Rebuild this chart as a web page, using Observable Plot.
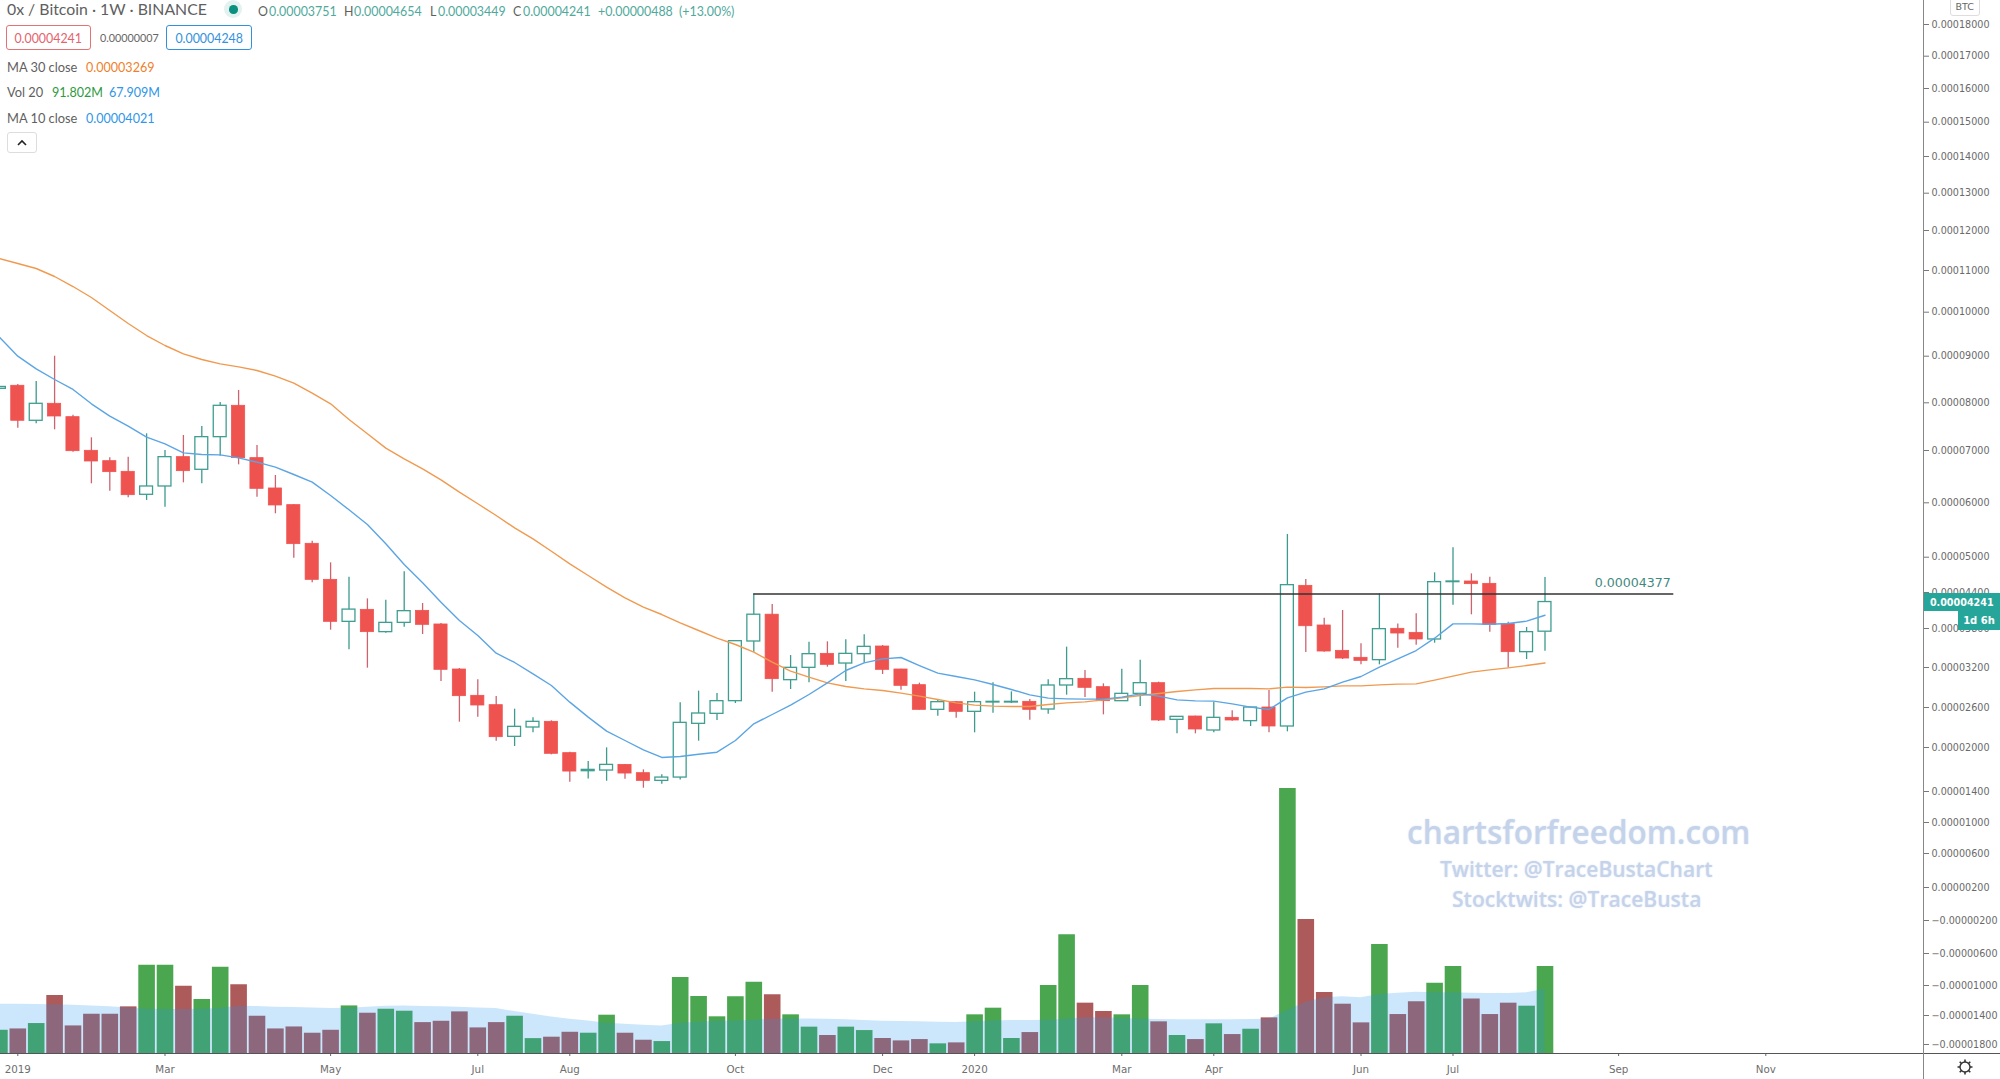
<!DOCTYPE html>
<html><head><meta charset="utf-8">
<script src="https://cdn.jsdelivr.net/npm/d3@7"></script>
<script src="https://cdn.jsdelivr.net/npm/@observablehq/plot@0.6"></script>
<style>
html,body{margin:0;padding:0;background:#fff;width:2000px;height:1079px;overflow:hidden}
#stage{position:relative;width:2000px;height:1079px;overflow:hidden;font-family:"Lato",sans-serif}
#stage svg.plot{position:absolute;left:0;top:0;background:transparent}
.t{position:absolute;white-space:nowrap;line-height:1;transform-origin:left center}
.box{position:absolute;box-sizing:border-box;display:flex;align-items:center;justify-content:center;white-space:nowrap}
.box span{display:inline-block}
.line{position:absolute}
</style></head><body><div id="stage"></div>
<script>
// Prices are in satoshi (1e-8 BTC). First entry is the week cut off by the left edge.
const firstWeek = "2018-12-31";
const opens = [8300,8365,7623,7979,7699,6994,6796,6592,6153,6312,6873,6631,7280,7937,6854,6274,5957,5246,4615,3911,4111,3744,3894,4094,3867,3170,2775,2635,2160,2300,2385,1923,1677,1686,1763,1650,1545,1590,2355,2505,2695,3600,4030,3010,3195,3410,3261,3405,3523,3170,2935,2565,2680,2535,2675,2675,2685,2570,2930,3030,2905,2695,2805,2965,2415,2465,2255,2445,2395,2600,2315,4513,3850,3456,3349,3313,3795,3733,3631,4576,4587,4547,3872,3436,3751];
const highs = [8350,8393,8457,9000,7741,7266,6860,6873,7350,7000,7315,7503,8007,8265,7105,6522,5963,5295,4904,4660,4294,4272,4751,4216,3883,3185,3015,2765,2575,2445,2400,1936,1809,1995,1768,1695,1627,2670,2845,2810,3605,4377,4200,3384,3590,3595,3626,3703,3538,3175,2965,2715,2690,2830,2970,2835,2720,3015,3513,3155,2955,3175,3313,2980,2460,2470,2680,2550,2605,2855,5418,4621,3972,4100,3564,4378,3877,4044,4734,5172,4717,4660,3905,3817,4654];
const lows = [8290,7469,7560,7434,6968,6363,6223,6095,6045,5920,6382,6363,6892,6726,6108,5798,4983,4564,3774,3475,3190,3728,3822,3708,2990,2380,2455,2095,2015,2220,1900,1527,1572,1540,1568,1445,1500,1558,2095,2405,2660,3436,2830,2870,2970,3205,2990,3266,3095,2860,2560,2470,2440,2220,2515,2660,2410,2500,2785,2750,2490,2690,2615,2390,2205,2205,2220,2395,2315,2220,2235,3430,3436,3323,3241,3241,3497,3544,3574,4189,4028,3744,3195,3323,3449];
const closes = [8340,7623,7979,7713,6987,6790,6586,6146,6312,6873,6605,7280,7937,6854,6267,5951,5240,4615,3911,4115,3744,3894,4089,3861,3165,2770,2630,2155,2310,2385,1914,1672,1695,1763,1645,1545,1590,2370,2510,2695,3605,4030,3025,3195,3405,3241,3410,3518,3165,2925,2565,2680,2535,2680,2685,2685,2565,2930,3025,2895,2695,2805,2965,2405,2460,2270,2445,2405,2600,2315,4525,3838,3446,3338,3302,3790,3723,3631,4576,4587,4542,3861,3436,3744,4241];
const ma10 = [9432,9000,8729,8500,8286,7979,7720,7510,7280,7140,6955,6924,6917,6860,6777,6681,6541,6395,6140,5871,5602,5246,4875,4564,4239,3933,3692,3420,3277,3105,2930,2680,2455,2245,2105,1968,1864,1877,1908,1936,2105,2355,2495,2635,2795,2970,3155,3271,3333,3354,3230,3115,3065,3015,2945,2870,2790,2740,2730,2725,2725,2755,2805,2770,2715,2700,2695,2655,2605,2570,2745,2830,2880,2980,3065,3205,3333,3461,3651,3877,3877,3872,3883,3922,4021];
const ma30 = [11300,11175,11050,10856,10616,10352,10040,9743,9470,9243,9053,8929,8836,8771,8693,8572,8422,8207,7979,7650,7350,7049,6841,6650,6439,6204,5982,5766,5539,5337,5110,4887,4689,4491,4311,4155,4033,3894,3769,3651,3554,3436,3282,3145,3055,2970,2915,2880,2855,2815,2770,2720,2670,2635,2620,2615,2615,2645,2670,2685,2715,2745,2780,2810,2840,2865,2885,2885,2885,2880,2905,2900,2910,2925,2925,2940,2950,2955,3010,3070,3130,3165,3195,3230,3269];
const volumes = [24.5,25.9,31.6,61.1,29.1,41.4,41.4,49.2,93.1,93.1,71,56.9,91,72.4,39.3,25.9,28,21.4,24.5,50.2,42.5,46.7,44.6,32.6,34,43.9,27,32.6,39.3,15.7,17.2,22.4,21.4,40.4,21.4,14,12.6,80.1,60,38.7,59.8,75.2,61.9,40.8,27.8,19,27.8,24.2,15.8,13.3,14.7,10.2,11.2,40.8,47.8,15.8,22.1,71.7,125.2,53.1,44.3,40.8,71.7,33.4,19,14.7,31.3,20,25.6,37.6,279.6,141.4,64.3,52,32.3,115,41.1,54.5,74.2,91.8,57.6,41.1,53.1,49.9,91.8];
const volMa = [52,52,51.6,51.3,51,50.2,49.2,48.1,46.7,46.3,46.3,46.7,47.4,49.9,49.5,48.8,48.5,48.1,47.4,47.8,48.8,49.9,50.2,49.5,49.2,48.8,48.1,47.4,44.2,41.4,38.6,36.1,34.4,31.9,30.9,29.8,29.1,31.9,33,34.1,34.4,35.1,36.2,36.5,36.5,36.2,35.5,34.8,34.1,33.7,33.4,33,32.7,33.4,34.4,34.8,34.8,35.1,36.2,37.6,37.6,36.9,36.2,35.8,35.5,35.5,35.5,35.5,35.8,36.2,45.3,54.1,58.7,59.8,58.7,62.2,63.6,64.7,64,64,63.6,63.3,63.3,64,67.9];
const priceTicks = [18000,17000,16000,15000,14000,13000,12000,11000,10000,9000,8000,7000,6000,5000,4400,3800,3200,2600,2000,1400,1000,600,200,-200,-600,-1000,-1400,-1800];
const timeTickDates = ["2019-01-07","2019-03-04","2019-05-06","2019-07-01","2019-08-05","2019-10-07","2019-12-02","2020-01-06","2020-03-02","2020-04-06","2020-06-01","2020-07-06","2020-09-07","2020-11-02"];
const timeTickLabels = ["2019","Mar","May","Jul","Aug","Oct","Dec","2020","Mar","Apr","Jun","Jul","Sep","Nov"];
const resistance = 4377;
const resistanceFrom = "2019-10-14", resistanceTo = "2020-09-28";

const DAY = 864e5;
const rows = opens.map((o,i)=>({
  date:new Date(+new Date(firstWeek+"T00:00Z")+i*7*DAY),
  open:o,high:highs[i],low:lows[i],close:closes[i],ma10:ma10[i],ma30:ma30[i],vol:volumes[i],volMa:volMa[i],up:closes[i]>=o
}));
const shift=(d,days)=>new Date(+d+days*DAY);
const tickDates = timeTickDates.map(s=>new Date(s+"T00:00Z"));
const labelOf = new Map(tickDates.map((d,i)=>[+d,timeTickLabels[i]]));
const up = rows.filter(d=>d.up), down = rows.filter(d=>!d.up);
const xScale = {type:"utc",domain:[new Date("2018-12-31T00:00Z"),new Date("2020-12-28T00:00Z")],range:[-1.1,1912.5]};
const chartFont = "DejaVu Sans";
const C = {up:"#3f9e90",upWick:"#3d9a8d",down:"#ef5350",downWick:"#cc6470",ma10:"#5ba5e4",ma30:"#f09a50",volUp:"#4ba650",volDown:"#ad5a5a"};

const stage = document.getElementById("stage");

// Volume pane
const vol = Plot.plot({
  width:2000,height:1079,marginLeft:0,marginRight:77,marginTop:0,marginBottom:26,
  x:{...xScale,axis:null},
  y:{type:"linear",domain:[0,100],range:[1053,958.2],axis:null},
  marks:[
    Plot.ruleX(up,{x:"date",y1:0,y2:"vol",stroke:C.volUp,strokeWidth:16.6}),
    Plot.ruleX(down,{x:"date",y1:0,y2:"vol",stroke:C.volDown,strokeWidth:16.6}),
    Plot.areaY(rows,{x:"date",y1:0,y2:"volMa",fill:"#2196f3",fillOpacity:0.23})
  ]
});
vol.setAttribute("class","plot");
stage.appendChild(vol);

// Price pane on its custom price axis
const price = Plot.plot({
  width:2000,height:1079,marginLeft:0,marginRight:77,marginTop:0,marginBottom:26,
  style:{background:"transparent",fontFamily:chartFont},
  x:{...xScale,axis:null},
  y:{type:"linear",domain:priceTicks,
     range:[24,55.7,88,121.7,156,192.7,230,270,311.7,355.7,402.3,450,502.3,556.7,592,628,667,707,747,791,822,853,887,920,953,985,1015,1044],axis:null},
  marks:[
    Plot.axisY({anchor:"right",ticks:priceTicks,tickSize:5,tickPadding:3,label:null,fontSize:9.6,color:"#6a6a6a",stroke:"#777",
      tickFormat:d=>(d<0?"\u2212":"")+(Math.abs(d)/1e8).toFixed(8)}),
    Plot.axisX({anchor:"bottom",ticks:tickDates,tickSize:3,tickPadding:9,label:null,fontSize:10.3,color:"#6e6e6e",stroke:"#666",
      tickFormat:d=>labelOf.get(+d)}),
    Plot.ruleX(up,{x:"date",y1:"low",y2:"high",stroke:C.upWick,strokeWidth:1.3}),
    Plot.ruleX(down,{x:"date",y1:"low",y2:"high",stroke:C.downWick,strokeWidth:1.3}),
    Plot.rect(up,{x1:d=>shift(d.date,-2.45),x2:d=>shift(d.date,2.45),y1:"open",y2:"close",fill:"#fff",stroke:C.up,strokeWidth:1.3}),
    Plot.rect(down,{x1:d=>shift(d.date,-2.5),x2:d=>shift(d.date,2.5),y1:"open",y2:"close",fill:C.down,stroke:C.down,strokeWidth:0.8}),
    Plot.line(rows,{x:"date",y:"ma30",stroke:C.ma30,strokeWidth:1.4}),
    Plot.line(rows,{x:"date",y:"ma10",stroke:C.ma10,strokeWidth:1.4}),
    Plot.ruleY([resistance],{x1:new Date(resistanceFrom+"T00:00Z"),x2:new Date(resistanceTo+"T00:00Z"),stroke:"#333",strokeWidth:1.5}),
    Plot.text([resistance],{x:()=>new Date(resistanceTo+"T00:00Z"),y:d=>d,text:d=>(d/1e8).toFixed(8),dy:-11,dx:-3,textAnchor:"end",fontSize:12.6,fill:"#3f8a80"})
  ]
});
price.setAttribute("class","plot");
stage.appendChild(price);

// Header legend, price tags and chrome
function txt(s,left,y,size,color,sx,extra){const e=document.createElement("div");e.className="t";e.textContent=s;
  e.style.cssText=`left:${left}px;top:${y}px;font-size:${size}px;color:${color};transform:translateY(-50%) scaleX(${sx||1});${extra||""}`;stage.appendChild(e);return e;}
function box(s,l,t,w,h,css,sx){const e=document.createElement("div");e.className="box";
  if(s){const a=document.createElement("span");a.textContent=s;a.style.transform=`scaleX(${sx||1})`;e.appendChild(a);}
  e.style.cssText=`left:${l}px;top:${t}px;width:${w}px;height:${h}px;${css}`;stage.appendChild(e);return e;}
function rail(l,t,w,h,c){const e=document.createElement("div");e.className="line";e.style.cssText=`left:${l}px;top:${t}px;width:${w}px;height:${h}px;background:${c}`;stage.appendChild(e);}

rail(0,1052.5,2000,1.3,"#555");
rail(1922.5,0,1.6,1079,"#888");

const grey="#5f5f5f", teal="#4fa99b", blue="#2f96e8";
txt("0x / Bitcoin \u00b7 1W \u00b7 BINANCE",6.5,9.5,15.6,grey,1.015);
box("",224,0,18,18,"background:#e3f2f0;border-radius:50%");
box("",229,5,8.5,8.5,"background:#0b8f7f;border-radius:50%");
[["O",258,grey],["0.00003751",269,teal],["H",344,grey],["0.00004654",354,teal],["L",430,grey],["0.00003449",438,teal],["C",513,grey],["0.00004241",523,teal],["+0.00000488",598,teal],["(+13.00%)",679,teal]]
  .forEach(([s,l,c])=>txt(s,l,10.5,14,c,0.885));
box("0.00004241",5.6,25,85.4,25,"border:1.4px solid #e57373;border-radius:3px;color:#e5626c;font-size:14px",0.885);
txt("0.00000007",99.5,38,11.6,"#666",0.93);
box("0.00004248",166,25,86,25,"border:1.4px solid #3291dd;border-radius:3px;color:#3291dd;font-size:14px",0.885);
txt("MA 30 close",6.5,68,13.5,grey,0.95); txt("0.00003269",86,68,13.5,"#ef7f2a",0.93);
txt("Vol 20",6.5,93,13.5,grey,0.95); txt("91.802M",51.5,93,13.5,"#2e9a3e",0.93); txt("67.909M",108.7,93,13.5,blue,0.93);
txt("MA 10 close",6.5,118.5,13.5,grey,0.95); txt("0.00004021",86,118.5,13.5,blue,0.93);
const btn=box("",6.6,132,30.4,21,"border:1px solid #ddd;border-radius:3px;background:#fff");
btn.innerHTML='<svg width="10" height="7" viewBox="0 0 10 7"><path d="M1 6 L5 2 L9 6" fill="none" stroke="#222" stroke-width="1.6"/></svg>';

box("BTC",1950,-3,29.5,19,"border:1px solid #ddd;border-radius:3px;background:#fff;color:#666;font:9.5px 'DejaVu Sans'");
box("0.00004241",1923.5,593,76.5,18,"background:#26a69a;color:#fff;font:bold 9.6px 'DejaVu Sans'");
box("1d 6h",1958,611,42,19,"background:#26a69a;color:#fff;font:bold 10px 'DejaVu Sans'");
const gear=box("",1956,1058,18,18,"");
gear.innerHTML='<svg width="18" height="18" viewBox="0 0 18 18"><circle cx="9" cy="9" r="5" fill="none" stroke="#333" stroke-width="1.4"/><g stroke="#333" stroke-width="1.6"><path d="M9 1.5V4M9 14V16.5M1.5 9H4M14 9H16.5M3.7 3.7L5.5 5.5M12.5 12.5L14.3 14.3M3.7 14.3L5.5 12.5M12.5 5.5L14.3 3.7"/></g></svg>';

const wm="font-family:'Open Sans';font-weight:600;text-shadow:0 0 2px #dbe4f3;";
txt("chartsforfreedom.com",1406.5,831,33,"#c5d3ea",0.955,wm);
txt("Twitter: @TraceBustaChart",1440,868,22,"#c5d3ea",0.955,wm);
txt("Stocktwits: @TraceBusta",1452,898,22,"#c5d3ea",0.958,wm);
</script></body></html>
